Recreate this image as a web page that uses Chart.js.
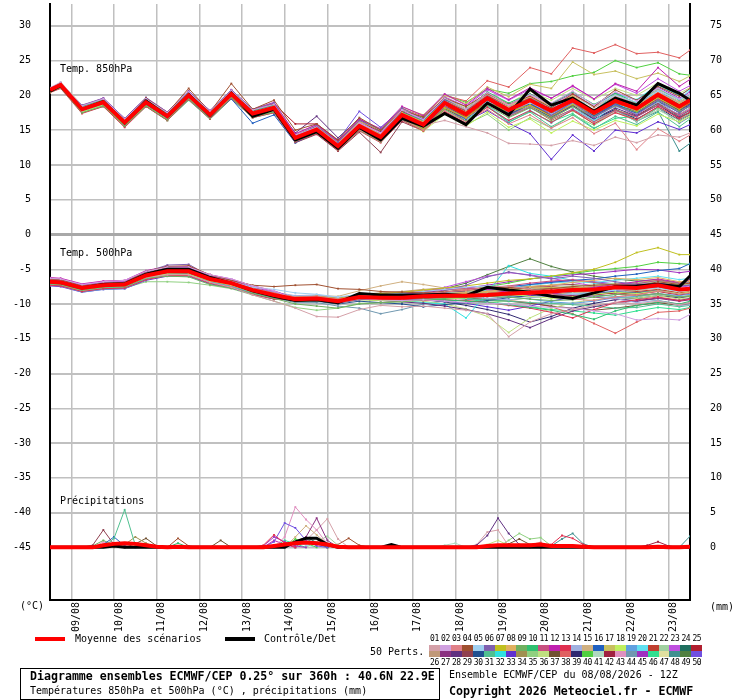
<!DOCTYPE html>
<html>
<head>
<meta charset="utf-8">
<script src="https://cdn.jsdelivr.net/npm/chart.js@4.4.1/dist/chart.umd.min.js"></script>
<style>
  body { margin: 0; background: #fff; }
  #wrap { position: relative; width: 740px; height: 700px; font-family: 'DejaVu Sans Mono', monospace; font-size: 10px; color: #000; }
  #c { position: absolute; left: 0; top: 0; }
  .t { position: absolute; white-space: pre; line-height: 12px; }
  .b { font-weight: bold; font-size: 11.6px; }
  .sw { position: absolute; width: 11px; height: 6px; }
  .n { position: absolute; width: 11px; text-align: center; font-size: 8px; line-height: 10px; letter-spacing: -0.4px; }
</style>
</head>
<body>
<div id="wrap">
  <canvas id="c" width="740" height="700"></canvas>
  <div class="t" style="left:60px;top:63px">Temp. 850hPa</div>
  <div class="t" style="left:60px;top:247px">Temp. 500hPa</div>
  <div class="t" style="left:60px;top:495px">Précipitations</div>
  <div class="t" style="left:20px;top:600px">(°C)</div>
  <div class="t" style="left:710px;top:601px">(mm)</div>

  <div style="position:absolute;left:35px;top:637px;width:30px;height:4px;background:#ff0000"></div>
  <div class="t" style="left:75px;top:633px">Moyenne des scénarios</div>
  <div style="position:absolute;left:225px;top:637px;width:30px;height:4px;background:#000"></div>
  <div class="t" style="left:264px;top:633px">Contrôle/Det</div>
  <div class="t" style="left:370px;top:646px">50 Perts.</div>
  <div id="perts"></div>

  <div style="position:absolute;left:20px;top:668px;width:418px;height:30px;border:1px solid #000"></div>
  <div class="t b" style="left:30px;top:670px">Diagramme ensembles ECMWF/CEP 0.25° sur 360h : 40.6N 22.9E</div>
  <div class="t" style="left:30px;top:685px">Températures 850hPa et 500hPa (°C) , précipitations (mm)</div>
  <div class="t" style="left:449px;top:669px">Ensemble ECMWF/CEP du 08/08/2026 - 12Z</div>
  <div class="t b" style="left:449px;top:685px">Copyright 2026 Meteociel.fr - ECMWF</div>
</div>

<script>
// forecast hours from 08/08 12Z
const hours = [0, 6, 18, 30, 42, 54, 66, 78, 90, 102, 114, 126, 138, 150, 162, 174, 186, 198, 210, 222, 234, 246, 258, 270, 282, 294, 306, 318, 330, 342, 354, 360];

const dayTicks = [12, 36, 60, 84, 108, 132, 156, 180, 204, 228, 252, 276, 300, 324, 348];
const dayLabels = ['09/08', '10/08', '11/08', '12/08', '13/08', '14/08', '15/08', '16/08', '17/08', '18/08', '19/08', '20/08', '21/08', '22/08', '23/08'];

const tempTicks = [30, 25, 20, 15, 10, 5, 0, -5, -10, -15, -20, -25, -30, -35, -40, -45];
const rightTicks = [75, 70, 65, 60, 55, 50, 45, 40, 35, 30, 25, 20, 15, 10, 5, 0];

const memberColors = [
  '#d4a0a8', '#d0a0e0', '#e08088', '#a05030', '#a0d0f0', '#8060b0', '#c0c020', '#e0b060', '#70b060', '#30c070',
  '#c85080', '#c020b0', '#e03050', '#a0b0e0', '#d0b080', '#2060c0', '#c8c060', '#c0f060', '#60a0e0', '#60e0f0',
  '#c04030', '#a0d0a0', '#c050e0', '#207060', '#b02030', '#c09878', '#8a3080', '#603080', '#904050', '#205090',
  '#50c090', '#30e0e0', '#6030d0', '#a09050', '#90d080', '#c0e080', '#705030', '#e06060', '#302870', '#50d040',
  '#b0d8c0', '#a02040', '#e090c0', '#7098b0', '#a030c0', '#30e090', '#e0e0a0', '#409090', '#508040', '#7050e0'
];

const mean850 = [20.8, 21.5, 18.0, 19.0, 16.1, 19.0, 17.0, 20.0, 17.2, 20.2, 17.4, 18.2, 13.9, 15.1, 12.7, 15.6, 14.0, 17.2, 15.8, 18.9, 17.3, 19.6, 17.9, 19.3, 17.8, 19.3, 17.5, 19.2, 18.1, 20.1, 18.4, 19.3];
const control850 = [20.6, 21.4, 18.0, 19.1, 16.0, 19.2, 17.0, 20.1, 17.1, 20.3, 17.0, 18.0, 13.6, 14.8, 12.4, 15.4, 13.6, 16.7, 15.6, 17.4, 15.8, 18.9, 17.2, 20.9, 18.6, 19.6, 17.7, 19.6, 18.6, 21.7, 20.3, 19.3];

const members850 = [
  [21.0,21.6,18.2,19.1,16.3,19.2,17.1,20.1,17.0,20.0,17.3,18.0,14.0,15.3,12.9,15.5,13.8,16.5,15.7,16.4,15.5,14.6,13.1,13.0,12.8,13.5,12.8,14.0,13.2,14.3,14.0,14.6],
  [21.1,21.9,18.5,19.5,16.6,19.5,17.5,20.5,17.7,20.7,17.9,18.7,14.3,15.4,13.0,16.0,14.6,17.9,16.5,19.6,18.0,20.4,18.6,20.1,18.9,20.6,18.6,20.5,19.2,21.0,19.5,20.2],
  [20.9,21.6,18.1,18.9,16.0,18.8,16.8,19.8,16.9,19.9,17.1,17.8,13.5,14.7,12.3,15.1,13.4,16.6,15.0,17.8,16.2,18.0,15.9,17.2,15.3,16.8,14.5,16.0,12.2,15.2,13.4,14.3],
  [20.8,21.6,18.2,19.3,16.4,19.6,17.5,21.0,17.6,21.7,18.0,19.3,15.0,15.9,13.6,16.8,15.0,17.8,16.9,19.6,18.4,20.3,18.7,19.9,18.2,20.2,18.4,20.8,19.3,21.3,19.9,21.0],
  [20.9,21.4,17.8,18.8,15.9,18.9,16.9,19.8,17.0,20.0,17.3,18.0,13.8,15.0,12.6,15.4,13.9,16.9,15.9,18.6,17.5,19.1,18.1,18.9,18.4,19.4,18.6,20.0,19.0,20.6,19.4,20.0],
  [20.9,21.7,18.6,19.6,16.7,19.7,17.6,20.6,17.8,20.8,18.0,18.9,14.2,15.6,13.3,16.4,15.1,18.2,16.6,19.3,17.4,19.9,17.5,19.5,17.1,19.0,16.8,18.6,17.2,19.4,17.5,18.5],
  [20.8,21.5,18.1,19.0,16.2,18.9,16.9,19.9,17.1,20.1,17.2,18.1,13.7,14.9,12.5,15.3,13.7,16.8,15.2,18.2,16.8,19.0,17.6,18.6,17.0,18.7,17.3,19.0,17.8,19.6,18.0,19.0],
  [20.7,21.4,18.0,19.0,16.1,19.1,17.0,20.1,17.4,20.3,17.6,18.4,14.1,15.3,12.8,15.9,14.4,17.5,16.2,19.3,17.9,20.1,18.5,19.8,18.3,19.9,17.9,19.8,18.6,20.4,18.9,19.6],
  [20.5,21.1,17.5,18.5,15.6,18.5,16.5,19.5,16.7,19.7,16.9,17.6,13.4,14.6,12.2,15.0,13.3,16.5,15.0,18.0,16.3,18.6,16.8,18.2,16.7,18.4,16.9,18.5,17.6,19.3,17.7,18.4],
  [21.0,21.8,18.4,19.4,16.5,19.4,17.4,20.4,17.6,20.6,17.8,18.6,14.0,15.2,12.8,15.8,14.3,17.6,16.3,19.6,18.0,20.5,18.9,20.2,18.8,20.5,18.7,20.3,18.9,21.0,19.3,20.1],
  [20.6,21.3,17.8,18.9,15.9,18.9,16.8,19.9,17.0,19.9,17.1,17.9,13.6,14.8,12.4,15.2,13.5,16.7,15.3,18.4,16.7,18.9,17.0,18.3,16.6,18.0,16.2,17.8,16.9,18.6,17.2,18.0],
  [20.9,21.7,18.5,19.6,16.7,19.6,17.6,20.6,17.8,20.8,18.0,19.0,14.5,15.8,13.4,16.6,15.2,18.4,17.1,20.2,18.6,21.0,19.4,21.1,19.6,21.4,19.5,21.7,20.6,24.0,21.3,22.3],
  [20.4,21.0,17.4,18.4,15.4,18.4,16.4,19.4,16.6,19.6,16.8,17.5,13.3,14.5,12.1,14.9,13.2,16.4,14.9,17.7,16.0,18.3,16.4,17.8,16.1,17.9,15.9,17.5,16.5,18.4,16.7,17.6],
  [20.9,21.6,18.2,19.2,16.3,19.1,17.1,20.0,17.2,20.1,17.3,18.1,13.8,15.0,12.6,15.6,14.1,17.3,16.0,19.0,17.4,19.5,17.6,19.0,17.3,18.8,16.9,18.4,17.3,19.0,17.2,18.2],
  [20.7,21.5,18.0,19.1,16.1,19.0,17.0,20.0,17.3,20.2,17.5,18.3,14.0,15.2,12.9,15.7,14.2,17.4,16.1,19.1,17.6,19.8,18.3,19.8,18.5,20.0,18.3,20.1,18.9,20.8,19.1,19.9],
  [20.9,21.3,17.9,18.8,15.9,18.7,16.7,19.5,16.8,19.5,16.0,17.2,13.2,14.6,12.4,15.3,13.8,16.9,15.4,18.3,16.6,19.1,17.2,18.8,17.3,18.9,17.0,18.8,17.4,19.2,17.5,18.6],
  [20.8,21.5,18.1,19.0,16.1,19.1,17.1,20.1,17.3,20.3,17.5,18.4,14.2,15.5,13.2,16.3,15.0,18.3,17.2,20.0,18.8,21.2,19.8,21.6,21.0,24.8,23.0,23.5,22.4,23.2,22.0,22.8],
  [20.4,21.1,17.6,18.6,15.7,18.6,16.6,19.6,16.8,19.8,16.9,17.7,13.5,14.7,12.3,15.1,13.5,16.6,14.8,17.3,15.6,17.6,15.4,16.6,14.6,16.3,15.0,16.4,15.6,17.3,16.2,17.0],
  [20.8,21.5,18.0,19.0,16.1,19.0,17.0,20.0,17.2,20.2,17.4,18.2,13.9,15.1,12.7,15.6,14.0,17.2,15.9,19.1,17.4,19.7,18.0,19.6,18.2,19.8,17.7,19.5,18.6,20.7,18.9,19.8],
  [20.9,21.6,18.1,19.1,16.2,19.2,17.1,20.1,17.2,20.2,17.4,18.1,13.7,14.9,12.6,15.5,13.9,17.0,15.5,18.4,16.6,18.6,16.3,17.9,16.0,18.1,16.4,18.7,17.9,20.9,19.4,20.8],
  [20.7,21.4,18.0,19.0,16.1,19.0,16.9,19.9,17.1,20.0,17.2,18.0,13.8,15.0,12.6,15.5,14.0,17.1,15.6,18.6,16.9,19.2,17.3,18.8,17.2,18.9,17.0,18.9,17.8,19.8,18.1,19.0],
  [20.8,21.5,18.1,19.1,16.2,19.1,17.1,20.1,17.3,20.3,17.5,18.3,14.0,15.2,12.8,15.7,14.1,17.3,15.9,18.8,17.1,19.1,17.0,18.4,16.6,18.0,16.1,17.6,16.3,17.9,16.4,17.3],
  [20.7,21.4,17.9,19.1,16.2,19.2,17.1,20.2,17.4,20.4,17.6,18.5,14.3,15.5,13.1,16.1,14.6,17.8,16.6,19.8,18.4,20.8,19.3,20.9,19.6,21.3,19.5,21.6,20.3,22.4,20.6,21.4],
  [20.9,21.6,18.1,19.0,16.1,18.9,16.9,19.8,17.0,19.9,17.1,17.9,13.6,14.8,12.4,15.3,13.6,16.8,15.4,18.5,16.9,19.3,17.5,19.2,17.6,19.4,17.4,19.3,18.3,20.4,18.7,19.5],
  [20.8,21.5,18.1,19.2,16.3,19.3,17.3,20.3,17.5,20.6,17.8,18.8,15.9,15.9,13.5,16.4,14.6,17.7,16.2,19.2,17.6,19.9,18.1,19.7,18.0,19.5,17.6,19.4,18.0,19.8,18.1,18.9],
  [20.6,21.3,17.8,18.8,15.9,18.8,16.8,19.8,17.0,20.0,17.2,18.0,13.7,14.9,12.5,15.4,13.8,17.0,15.6,18.7,17.0,19.3,17.6,19.0,17.5,19.0,17.3,19.1,18.2,20.2,18.6,19.5],
  [20.8,21.4,17.9,18.9,16.0,18.9,16.9,19.9,17.1,20.1,17.3,18.1,13.8,15.0,12.7,15.6,14.2,17.4,16.0,19.2,17.7,20.0,18.2,19.7,18.0,19.6,17.5,19.1,17.5,19.2,17.0,17.9],
  [20.9,21.5,18.0,19.1,16.2,19.2,17.2,20.2,17.4,20.5,17.7,18.6,14.6,17.0,13.9,16.6,14.8,17.6,16.1,18.9,17.1,19.0,17.0,18.4,16.9,18.5,16.6,18.2,17.0,18.6,16.8,17.6],
  [20.7,21.4,17.9,18.8,15.9,18.7,16.7,19.6,16.8,19.7,16.9,17.6,13.2,14.4,12.0,14.7,11.8,16.2,14.9,18.1,16.6,18.9,17.2,18.7,17.1,18.8,16.8,18.7,17.6,19.5,17.9,18.8],
  [20.8,21.5,18.0,19.0,16.0,19.0,17.0,20.0,17.3,20.2,17.4,18.2,13.9,15.1,12.8,15.8,14.3,17.5,16.2,19.4,17.8,20.1,18.3,19.6,17.9,19.2,17.0,18.7,17.4,19.6,17.8,18.7],
  [20.6,21.2,17.7,18.6,15.7,18.6,16.6,19.6,16.8,19.8,17.0,17.7,13.5,14.8,12.4,15.3,13.7,16.9,15.5,18.4,16.5,18.5,16.2,17.6,15.5,17.2,15.2,17.0,15.8,17.6,15.5,16.6],
  [20.7,21.4,18.0,19.0,16.1,19.1,17.1,20.1,17.3,20.3,17.5,18.4,14.1,15.3,12.9,15.9,14.4,17.6,16.3,19.4,17.6,19.5,16.9,18.4,16.9,18.8,17.8,20.2,19.4,21.5,20.0,20.9],
  [20.8,21.5,18.1,19.1,16.2,19.1,17.0,19.9,17.0,19.9,17.1,17.9,13.6,14.9,12.6,15.5,14.0,17.0,15.4,18.3,16.3,17.8,16.0,14.5,10.8,14.3,12.0,15.0,14.6,16.2,15.1,15.8],
  [20.6,21.3,17.9,18.9,16.0,18.9,16.9,19.8,17.1,20.0,17.3,18.1,13.8,15.0,12.6,15.5,13.9,17.1,15.7,18.7,17.0,19.0,17.0,18.3,16.4,17.8,15.9,17.9,17.0,18.6,17.3,18.2],
  [20.5,21.1,17.5,18.5,15.6,18.5,16.4,19.4,16.6,19.6,16.8,17.6,13.6,14.7,12.3,15.2,13.6,16.7,15.0,17.5,15.8,17.3,15.0,16.8,15.3,17.2,15.7,17.6,16.5,18.2,16.9,17.8],
  [21.0,21.9,18.6,19.5,16.6,19.5,17.5,20.5,17.7,20.7,17.9,18.8,14.4,15.6,13.2,16.2,14.7,17.9,16.6,19.7,18.2,20.4,18.8,20.6,19.3,21.0,19.4,21.0,20.0,21.8,20.3,21.1],
  [20.7,21.4,17.9,18.9,16.0,18.9,16.8,19.8,17.0,19.9,17.1,17.8,13.5,14.7,12.3,15.1,13.4,16.5,15.2,18.3,16.7,19.1,17.6,19.0,17.4,19.2,17.1,18.9,17.4,19.0,16.9,17.5],
  [20.8,21.5,18.1,19.1,16.2,19.2,17.2,20.2,17.4,20.4,17.6,18.5,14.3,15.6,13.3,16.3,14.9,18.1,17.0,20.0,19.2,22.1,21.2,24.0,23.1,26.8,26.1,27.3,26.0,26.2,25.4,26.5],
  [20.9,21.5,18.0,19.0,16.0,18.9,16.9,19.9,17.2,20.2,17.4,18.3,14.0,15.2,12.7,15.6,14.0,17.2,15.8,18.9,17.2,19.4,17.5,19.0,17.2,18.6,16.6,18.0,16.6,18.3,16.4,17.2],
  [20.7,21.4,18.0,19.1,16.2,19.2,17.2,20.2,17.4,20.4,17.6,18.4,14.2,15.4,13.1,16.1,14.7,17.9,16.8,20.1,19.0,20.9,20.3,21.7,22.0,22.8,23.3,25.0,24.0,24.7,23.1,22.9],
  [20.8,21.5,18.0,18.9,16.0,18.9,16.9,19.9,17.1,20.1,17.3,18.2,13.9,15.1,12.7,15.6,14.1,17.3,15.9,19.0,17.3,19.6,17.8,19.2,17.6,19.1,17.2,18.9,17.6,19.5,17.7,18.6],
  [20.9,21.6,18.1,19.1,16.2,19.1,17.0,20.0,17.2,20.3,17.5,18.3,14.1,15.4,13.0,15.9,14.4,17.6,16.2,19.3,17.5,19.6,17.6,19.1,17.4,19.2,16.9,18.6,17.1,18.9,16.5,17.3],
  [20.6,21.4,17.9,19.0,16.1,19.0,17.0,20.0,17.3,20.2,17.4,18.2,13.9,15.1,12.8,15.7,14.2,17.4,16.0,19.1,17.6,20.0,18.4,20.0,18.6,20.2,18.2,19.9,18.8,20.6,19.0,19.9],
  [20.8,21.5,18.0,19.0,16.1,19.1,17.1,20.1,17.2,20.1,17.3,18.0,13.7,14.9,12.6,15.4,13.8,16.9,15.5,18.5,16.8,19.0,17.1,18.5,16.8,18.4,16.3,17.9,16.2,18.2,16.0,16.9],
  [20.9,21.8,18.4,19.4,16.5,19.4,17.4,20.4,17.6,20.6,17.9,18.7,14.2,15.5,13.1,16.0,14.5,17.7,16.4,19.5,18.0,20.3,18.6,20.2,18.7,20.3,18.4,20.4,19.3,21.2,19.6,20.5],
  [20.6,21.1,17.5,18.4,15.5,18.4,16.4,19.3,16.6,19.5,16.8,17.5,13.6,14.8,12.4,15.2,13.5,16.6,15.1,18.0,16.2,18.4,16.1,17.7,16.2,17.4,15.3,16.7,17.0,18.8,16.7,17.5],
  [20.8,21.5,18.1,19.1,16.1,19.0,17.0,20.0,17.2,20.2,17.4,18.2,13.9,15.1,12.8,15.7,14.2,17.4,16.1,19.2,17.6,19.9,18.1,19.6,18.0,19.7,17.9,19.7,18.5,20.5,18.8,19.7],
  [20.7,21.4,17.9,18.9,16.0,18.9,16.9,19.9,17.1,20.0,17.2,18.0,13.7,14.9,12.5,15.4,13.8,17.0,15.6,18.6,16.9,19.1,17.2,18.7,17.0,18.5,16.5,18.0,16.3,17.7,12.0,13.1],
  [20.8,21.6,18.1,19.1,16.2,19.1,17.1,20.1,17.3,20.3,17.5,18.3,14.0,15.2,12.9,15.8,14.3,17.4,16.0,19.0,17.3,19.5,17.7,19.3,17.7,19.6,17.6,19.6,18.4,20.3,18.3,19.1],
  [20.9,21.5,18.0,19.0,16.1,19.1,17.1,20.1,17.3,20.3,17.5,18.4,14.4,15.8,13.5,17.7,15.4,18.0,16.4,19.4,17.8,20.0,18.1,19.6,17.9,19.5,17.4,19.3,18.1,19.9,18.0,18.9]
];

const mean500 = [-6.8, -6.9, -7.7, -7.3, -7.2, -5.9, -5.3, -5.3, -6.4, -7.0, -8.0, -8.7, -9.3, -9.2, -9.6, -9.0, -9.1, -9.1, -8.9, -8.8, -8.8, -8.7, -8.5, -8.4, -8.2, -8.0, -7.9, -7.6, -7.7, -7.3, -7.9, -7.8];
const control500 = [-6.8, -6.9, -7.7, -7.2, -7.1, -5.7, -5.0, -5.0, -6.2, -7.0, -8.1, -8.9, -9.5, -9.4, -9.8, -8.5, -8.7, -8.7, -8.7, -8.6, -8.8, -7.6, -8.0, -8.3, -8.9, -9.2, -8.4, -7.5, -7.4, -7.2, -7.5, -6.0];

const members500 = [
  [-6.7,-6.8,-7.6,-7.4,-7.3,-6.2,-5.8,-5.8,-6.9,-7.6,-8.7,-9.6,-10.6,-11.8,-11.9,-10.8,-10.2,-10.4,-10.3,-10.6,-10.9,-11.4,-14.7,-12.6,-11.4,-10.8,-10.2,-9.8,-10.0,-9.6,-10.1,-9.8],
  [-6.3,-6.4,-7.2,-6.8,-6.6,-5.3,-4.7,-4.7,-5.8,-6.4,-7.4,-8.1,-9.4,-9.3,-9.7,-9.2,-9.4,-9.5,-9.4,-9.6,-9.8,-9.9,-10.0,-10.3,-10.5,-10.6,-11.0,-11.4,-12.3,-12.1,-12.3,-11.5],
  [-6.8,-6.9,-7.6,-7.2,-7.0,-5.6,-5.0,-5.0,-6.1,-6.8,-7.8,-8.4,-9.0,-8.9,-9.3,-8.8,-8.9,-8.8,-8.5,-8.3,-8.0,-7.6,-7.4,-7.9,-8.6,-9.3,-9.5,-9.0,-8.7,-8.1,-8.6,-8.4],
  [-6.4,-6.5,-7.4,-7.0,-6.9,-5.3,-4.6,-4.5,-5.8,-6.6,-7.3,-7.5,-7.3,-7.2,-7.8,-7.9,-8.2,-8.3,-8.4,-8.2,-8.0,-7.7,-7.6,-7.9,-7.8,-7.5,-7.3,-7.2,-7.5,-6.8,-7.2,-7.0],
  [-6.9,-7.0,-7.7,-7.3,-7.2,-6.0,-5.4,-5.2,-6.2,-6.8,-7.6,-7.9,-8.4,-8.6,-9.0,-8.6,-8.7,-8.5,-8.2,-7.9,-7.6,-7.4,-7.5,-7.8,-8.2,-8.5,-8.4,-8.0,-7.9,-7.7,-8.2,-8.0],
  [-6.6,-6.7,-7.5,-7.2,-7.0,-5.4,-4.4,-4.3,-6.0,-7.1,-8.2,-8.8,-9.5,-9.4,-9.9,-9.4,-9.3,-9.2,-8.8,-8.1,-7.3,-6.1,-5.4,-5.9,-6.4,-6.0,-6.3,-6.8,-7.2,-7.0,-7.4,-7.3],
  [-6.7,-6.8,-7.7,-7.3,-7.1,-5.8,-5.2,-5.1,-6.2,-6.8,-7.8,-8.5,-9.0,-8.9,-9.2,-8.7,-8.5,-8.3,-8.0,-7.7,-7.4,-7.0,-6.6,-6.4,-6.0,-5.5,-5.0,-4.0,-2.6,-1.9,-2.9,-2.9],
  [-6.9,-7.0,-7.8,-7.4,-7.3,-6.0,-5.4,-5.4,-6.6,-7.3,-8.2,-8.9,-9.6,-9.5,-9.8,-9.3,-9.2,-9.0,-8.7,-8.5,-8.3,-8.2,-7.8,-7.5,-7.3,-6.9,-6.6,-6.3,-6.5,-6.2,-6.8,-6.7],
  [-7.1,-7.2,-8.0,-7.6,-7.5,-6.3,-6.0,-6.1,-7.2,-7.7,-8.5,-9.2,-10.0,-10.3,-10.6,-10.0,-9.8,-9.7,-9.4,-9.2,-9.0,-8.9,-9.0,-9.3,-9.5,-9.4,-9.0,-8.6,-8.8,-8.5,-9.0,-8.9],
  [-6.7,-6.8,-7.6,-7.2,-7.1,-5.7,-5.1,-5.2,-6.3,-7.0,-8.0,-8.6,-9.1,-9.0,-9.4,-8.9,-9.0,-9.2,-9.3,-9.4,-9.6,-9.8,-10.1,-10.5,-10.9,-11.5,-12.2,-11.0,-10.2,-9.7,-10.0,-9.6],
  [-6.5,-6.6,-7.5,-7.1,-7.0,-5.6,-4.9,-4.9,-6.0,-6.7,-7.7,-8.4,-9.0,-8.9,-9.2,-8.6,-8.5,-8.3,-8.1,-7.9,-7.8,-7.7,-7.4,-7.0,-6.7,-6.5,-6.9,-7.3,-7.1,-6.6,-7.0,-6.8],
  [-6.2,-6.3,-7.1,-6.7,-6.6,-5.2,-4.6,-4.6,-5.8,-6.4,-7.4,-8.1,-9.2,-9.1,-9.5,-9.0,-8.8,-8.6,-8.2,-7.8,-7.6,-7.9,-8.3,-8.7,-8.6,-8.1,-7.6,-7.2,-6.8,-6.4,-6.9,-6.6],
  [-7.3,-7.4,-8.2,-7.8,-7.7,-6.5,-5.9,-5.9,-7.0,-7.6,-8.6,-9.3,-9.4,-9.3,-9.7,-9.2,-9.3,-9.4,-9.5,-9.4,-9.5,-9.8,-10.2,-10.6,-11.2,-12.0,-10.8,-9.8,-9.4,-9.0,-9.5,-9.3],
  [-6.8,-6.9,-7.7,-7.3,-7.2,-5.9,-5.3,-5.2,-6.3,-6.9,-7.8,-8.3,-8.8,-8.7,-9.1,-8.6,-8.8,-8.9,-8.8,-8.7,-8.9,-9.2,-9.4,-9.1,-8.8,-8.6,-8.9,-9.2,-9.8,-9.5,-10.2,-10.1],
  [-6.8,-6.9,-7.6,-7.2,-7.1,-5.8,-5.2,-5.1,-6.2,-6.9,-7.9,-8.5,-9.0,-8.8,-8.9,-8.1,-7.4,-6.8,-7.2,-7.7,-8.0,-8.2,-8.4,-8.5,-8.6,-8.4,-8.2,-7.9,-8.0,-7.7,-8.2,-8.1],
  [-6.9,-7.0,-7.8,-7.4,-7.3,-6.0,-5.4,-5.4,-6.5,-7.1,-8.0,-8.6,-9.2,-9.1,-9.5,-9.0,-9.0,-8.9,-8.6,-8.3,-8.0,-7.8,-7.5,-7.2,-6.9,-6.6,-6.4,-6.0,-5.7,-5.2,-4.9,-4.2],
  [-6.7,-6.8,-7.7,-7.3,-7.1,-5.8,-5.2,-5.3,-6.4,-7.0,-7.9,-8.6,-9.1,-9.0,-9.4,-8.9,-9.0,-8.9,-8.7,-8.6,-8.5,-8.3,-8.0,-7.7,-7.6,-7.7,-7.5,-7.1,-6.9,-6.6,-7.2,-7.0],
  [-7.0,-7.1,-7.9,-7.5,-7.4,-6.2,-5.7,-5.7,-6.7,-7.3,-8.3,-9.0,-9.6,-9.5,-9.9,-9.4,-9.5,-9.6,-9.5,-9.3,-9.1,-8.8,-8.6,-8.9,-9.2,-9.0,-8.6,-8.3,-8.5,-8.1,-8.5,-8.3],
  [-7.3,-7.4,-8.3,-7.9,-7.8,-6.5,-5.8,-5.8,-6.9,-7.5,-8.5,-9.2,-9.4,-9.3,-9.6,-9.0,-9.1,-9.0,-8.7,-8.5,-8.4,-8.6,-8.9,-9.3,-9.7,-9.9,-9.6,-9.1,-8.9,-8.5,-8.8,-8.6],
  [-6.6,-6.7,-7.5,-7.1,-7.0,-5.7,-5.1,-5.1,-6.2,-6.9,-7.8,-8.4,-8.9,-8.8,-9.2,-8.7,-8.8,-8.7,-8.5,-8.4,-8.3,-8.0,-7.6,-7.3,-7.0,-6.8,-6.9,-6.6,-6.3,-6.0,-6.5,-6.3],
  [-6.8,-6.9,-7.7,-7.3,-7.2,-5.9,-5.3,-5.3,-6.4,-7.0,-8.0,-8.7,-9.3,-9.2,-9.6,-9.0,-9.2,-9.3,-9.2,-9.1,-9.0,-8.8,-8.5,-8.1,-7.8,-7.6,-7.7,-7.9,-8.2,-7.9,-8.4,-8.2],
  [-6.9,-7.0,-7.7,-7.3,-7.2,-5.9,-5.3,-5.3,-6.5,-7.2,-8.2,-8.9,-9.5,-9.4,-9.8,-9.2,-9.2,-9.1,-8.9,-8.8,-8.7,-8.5,-8.2,-8.0,-7.7,-7.4,-7.3,-7.0,-7.1,-6.8,-7.3,-7.1],
  [-6.3,-6.4,-7.2,-6.8,-6.7,-5.3,-4.6,-4.7,-5.9,-6.5,-7.4,-8.2,-9.1,-9.0,-9.4,-8.8,-8.8,-8.6,-8.2,-7.6,-6.8,-6.0,-5.5,-5.8,-6.3,-6.9,-7.4,-7.8,-7.5,-7.0,-7.6,-7.4],
  [-6.8,-6.9,-7.7,-7.3,-7.2,-5.9,-5.4,-5.5,-6.6,-7.2,-8.2,-8.9,-9.4,-9.3,-9.7,-9.2,-9.3,-9.2,-9.0,-8.9,-8.9,-8.8,-8.7,-8.6,-8.5,-8.3,-8.2,-7.9,-8.0,-7.6,-8.1,-8.0],
  [-6.9,-7.0,-7.8,-7.3,-7.1,-5.8,-5.2,-5.2,-6.3,-6.9,-7.9,-8.6,-9.2,-9.1,-9.5,-9.0,-9.1,-9.0,-8.8,-8.6,-8.5,-8.4,-8.3,-8.5,-8.7,-8.9,-8.7,-8.4,-8.6,-8.2,-8.7,-8.5],
  [-6.5,-6.6,-7.5,-7.2,-7.1,-5.8,-5.2,-5.2,-6.4,-7.0,-7.9,-8.5,-9.0,-8.9,-9.2,-8.6,-8.4,-8.2,-7.9,-7.7,-7.8,-8.0,-8.3,-8.4,-8.3,-8.1,-7.8,-7.4,-7.3,-7.0,-7.4,-7.2],
  [-6.8,-6.9,-7.7,-7.4,-7.3,-6.0,-5.4,-5.4,-6.5,-7.1,-8.1,-8.8,-9.4,-9.3,-9.7,-9.1,-9.1,-9.0,-8.8,-8.6,-8.4,-8.2,-8.0,-8.2,-8.5,-8.8,-9.0,-9.3,-9.6,-9.2,-9.6,-9.4],
  [-6.9,-7.0,-7.8,-7.4,-7.2,-5.9,-5.3,-5.4,-6.5,-7.1,-8.1,-8.8,-9.4,-9.4,-9.8,-9.3,-9.5,-9.7,-9.9,-10.3,-10.8,-11.4,-12.3,-13.4,-12.1,-11.0,-10.4,-9.8,-9.6,-9.1,-9.5,-9.2],
  [-6.7,-6.8,-7.6,-7.2,-7.1,-5.8,-5.2,-5.2,-6.3,-6.9,-7.9,-8.6,-9.1,-9.0,-9.5,-8.9,-8.9,-8.8,-8.5,-8.3,-8.2,-8.0,-7.7,-7.5,-7.3,-7.2,-7.5,-7.8,-7.7,-7.4,-7.9,-7.7],
  [-6.8,-6.9,-7.7,-7.3,-7.2,-6.0,-5.5,-5.6,-6.7,-7.3,-8.3,-9.0,-9.6,-9.6,-10.0,-9.6,-9.8,-10.0,-10.4,-10.1,-9.8,-9.5,-9.1,-8.8,-8.6,-8.4,-8.5,-8.3,-8.4,-8.1,-8.6,-8.4],
  [-6.8,-6.9,-7.7,-7.3,-7.1,-5.8,-5.3,-5.3,-6.4,-7.0,-8.0,-8.7,-9.3,-9.2,-9.6,-9.1,-9.2,-9.2,-9.1,-9.0,-9.2,-9.4,-9.6,-9.8,-9.9,-10.1,-10.3,-10.6,-10.5,-10.0,-10.4,-10.2],
  [-6.9,-7.0,-7.8,-7.4,-7.3,-6.0,-5.4,-5.3,-6.4,-7.0,-8.0,-8.6,-9.2,-9.1,-9.5,-9.0,-9.2,-9.4,-9.8,-10.0,-12.0,-8.4,-4.5,-5.6,-6.0,-6.6,-7.0,-7.2,-7.0,-6.7,-7.1,-6.9],
  [-7.4,-7.5,-8.3,-7.9,-7.8,-6.6,-6.0,-6.0,-7.1,-7.7,-8.6,-9.3,-9.3,-9.3,-9.7,-9.2,-9.3,-9.4,-9.4,-9.6,-9.9,-10.4,-10.9,-10.3,-9.6,-9.0,-8.6,-8.1,-7.6,-7.0,-7.4,-7.2],
  [-6.7,-6.8,-7.6,-7.3,-7.2,-6.0,-5.5,-5.5,-6.6,-7.2,-8.1,-8.8,-9.3,-9.2,-9.6,-9.1,-9.0,-8.8,-8.6,-8.5,-8.6,-8.7,-8.8,-8.6,-8.3,-8.0,-7.8,-7.5,-7.4,-7.0,-7.5,-7.3],
  [-7.2,-7.3,-8.1,-7.8,-7.7,-6.8,-6.8,-6.9,-7.3,-7.8,-8.7,-9.6,-10.5,-10.9,-10.6,-9.9,-9.8,-9.6,-9.4,-9.6,-10.0,-9.8,-9.5,-9.1,-8.8,-8.6,-8.9,-9.2,-9.0,-8.6,-9.0,-8.8],
  [-6.8,-6.9,-7.7,-7.3,-7.2,-5.9,-5.2,-5.2,-6.3,-6.9,-7.9,-8.6,-9.2,-9.1,-9.5,-9.0,-9.2,-9.4,-9.6,-10.0,-10.7,-11.8,-14.1,-12.0,-10.6,-9.8,-9.4,-9.0,-9.2,-8.8,-9.3,-9.1],
  [-6.6,-6.7,-7.5,-7.2,-7.1,-5.6,-4.7,-4.6,-6.1,-6.9,-7.9,-8.6,-9.2,-9.1,-9.5,-9.0,-9.1,-9.1,-9.0,-8.9,-9.1,-9.4,-9.6,-9.9,-10.3,-10.6,-10.9,-10.6,-10.2,-9.8,-10.2,-10.0],
  [-6.9,-7.0,-7.8,-7.4,-7.3,-6.0,-5.4,-5.4,-6.5,-7.1,-8.1,-8.8,-9.4,-9.3,-9.7,-9.1,-9.1,-9.0,-8.9,-8.9,-9.0,-9.2,-9.5,-9.8,-10.4,-11.4,-12.8,-14.2,-12.6,-11.2,-11.0,-10.6],
  [-6.7,-6.8,-7.6,-7.2,-7.1,-5.8,-5.1,-5.1,-6.2,-6.8,-7.8,-8.5,-9.1,-9.0,-9.4,-8.9,-9.0,-9.2,-9.4,-9.7,-10.2,-10.8,-11.5,-12.6,-11.8,-10.6,-9.9,-9.4,-9.2,-8.8,-9.1,-8.9],
  [-6.8,-6.9,-7.7,-7.3,-7.1,-5.8,-5.2,-5.2,-6.3,-6.9,-7.9,-8.6,-9.2,-9.1,-9.4,-8.9,-8.9,-8.8,-8.6,-8.3,-8.0,-7.5,-7.0,-6.4,-6.0,-5.6,-5.2,-4.9,-4.6,-4.0,-4.2,-4.3],
  [-6.9,-7.0,-7.8,-7.4,-7.2,-5.9,-5.3,-5.3,-6.4,-7.0,-8.0,-8.7,-9.3,-9.2,-9.6,-9.1,-9.1,-9.1,-8.9,-8.9,-9.0,-8.9,-8.7,-8.5,-8.4,-8.2,-8.0,-7.8,-7.9,-7.6,-8.1,-7.9],
  [-6.7,-6.8,-7.6,-7.2,-7.2,-5.9,-5.3,-5.3,-6.4,-7.0,-8.0,-8.7,-9.3,-9.2,-9.6,-9.0,-9.0,-8.9,-8.7,-8.4,-8.1,-7.9,-7.8,-7.6,-7.5,-7.8,-8.2,-8.6,-8.8,-8.5,-9.0,-8.8],
  [-6.8,-6.9,-7.7,-7.3,-7.2,-5.9,-5.3,-5.3,-6.4,-7.0,-8.0,-8.7,-9.3,-9.2,-9.6,-9.0,-9.1,-9.0,-8.8,-8.7,-8.7,-8.6,-8.4,-8.2,-8.0,-7.9,-7.8,-7.6,-7.7,-7.4,-7.9,-7.7],
  [-7.1,-7.2,-8.0,-7.5,-7.4,-6.2,-5.7,-5.7,-6.8,-7.4,-8.4,-9.1,-9.8,-9.8,-10.3,-10.6,-11.4,-10.8,-10.0,-9.6,-9.4,-9.2,-9.0,-8.8,-8.7,-8.6,-8.4,-8.2,-8.3,-8.0,-8.4,-8.3],
  [-6.4,-6.5,-7.3,-6.9,-6.8,-5.5,-4.8,-4.8,-6.0,-6.6,-7.6,-8.3,-9.1,-9.0,-9.4,-8.9,-8.9,-8.7,-8.4,-8.0,-7.7,-7.3,-6.8,-6.4,-6.1,-5.8,-5.6,-5.3,-5.0,-5.1,-5.5,-5.3],
  [-7.2,-7.3,-8.1,-7.7,-7.6,-6.4,-5.7,-5.7,-6.8,-7.4,-8.4,-9.1,-9.3,-9.2,-9.6,-9.1,-9.2,-9.2,-9.1,-9.0,-9.3,-9.7,-10.0,-10.4,-10.8,-11.0,-11.3,-11.6,-11.0,-10.5,-10.8,-10.5],
  [-6.9,-7.0,-7.8,-7.4,-7.3,-6.0,-5.4,-5.4,-6.5,-7.1,-8.1,-8.8,-9.4,-9.3,-9.7,-9.1,-9.0,-8.8,-8.6,-8.5,-8.4,-8.2,-8.0,-7.8,-7.6,-7.4,-7.2,-7.0,-7.2,-6.9,-7.4,-7.2],
  [-6.7,-6.8,-7.6,-7.3,-7.2,-5.9,-5.3,-5.3,-6.4,-7.0,-8.0,-8.7,-9.3,-9.2,-9.6,-9.0,-9.1,-9.1,-9.0,-8.9,-8.8,-8.7,-8.6,-8.5,-8.5,-8.6,-8.7,-8.9,-9.2,-9.5,-10.0,-9.8],
  [-6.8,-6.9,-7.7,-7.3,-7.1,-5.8,-5.2,-5.2,-6.3,-6.9,-7.9,-8.6,-9.2,-9.1,-9.5,-8.9,-8.9,-8.7,-8.3,-7.8,-7.0,-5.8,-4.6,-3.5,-4.6,-5.4,-6.0,-6.4,-6.7,-6.5,-7.0,-6.8],
  [-6.9,-7.0,-7.8,-7.4,-7.3,-6.0,-5.4,-5.4,-6.5,-7.1,-8.1,-8.8,-9.4,-9.3,-9.7,-9.2,-9.3,-9.3,-9.2,-9.1,-9.0,-8.6,-7.9,-7.2,-6.8,-6.6,-6.8,-7.1,-7.3,-7.0,-7.5,-7.3]
];

// precipitation (mm), [hour, mm] pairs; mean and control cover the whole run
const meanPrecip = [[0,0],[24,0],[30,0.3],[36,0.5],[42,0.6],[48,0.5],[54,0.3],[60,0.1],[66,0],[72,0.1],[78,0],[120,0],[126,0.2],[132,0.4],[138,0.6],[144,0.7],[150,0.6],[156,0.4],[162,0.1],[168,0],[240,0],[246,0.2],[252,0.3],[258,0.3],[264,0.3],[270,0.3],[276,0.4],[282,0.2],[288,0.2],[294,0.2],[300,0.1],[306,0],[336,0],[342,0.1],[348,0],[354,0],[360,0.1]];
const controlPrecip = [[0,0],[30,0],[36,0.2],[42,0],[132,0],[138,0.8],[144,1.3],[150,1.3],[156,0.4],[162,0],[186,0],[192,0.4],[198,0],[360,0]];

// [member number, [[hour, mm], ...]]
const memberPrecip = [
  [31, [[30,0],[36,1.3],[42,5.4],[48,0.3],[54,0]]],
  [29, [[18,0],[24,0.3],[30,2.5],[36,0.4],[42,0]]],
  [16, [[24,0],[30,0.4],[36,1.5],[42,0.2],[48,0]]],
  [9, [[18,0],[24,0.2],[30,1.0],[36,0.3],[42,0]]],
  [43, [[24,0],[30,0.8],[36,0.2],[42,0]]],
  [34, [[36,0],[42,0.4],[48,1.5],[54,0.6],[60,0]]],
  [37, [[42,0],[48,0.5],[54,1.3],[60,0.2],[66,0]]],
  [4, [[66,0],[72,1.3],[78,0.2],[84,0]]],
  [10, [[66,0],[72,0.6],[78,0]]],
  [37, [[90,0],[96,1.0],[102,0]]],
  [13, [[114,0],[120,0.3],[126,1.8],[132,0.6],[138,0]]],
  [45, [[114,0],[120,0.2],[126,1.5],[132,0.8],[138,0.2],[144,0]]],
  [50, [[120,0],[126,0.8],[132,3.5],[138,2.8],[144,1.0],[150,0.2],[156,0]]],
  [43, [[126,0],[132,1.5],[138,5.8],[144,4.0],[150,2.5],[156,0.5],[162,0]]],
  [27, [[132,0],[138,0.8],[144,1.5],[150,4.2],[156,1.0],[162,0]]],
  [15, [[132,0],[138,1.5],[144,3.1],[150,1.8],[156,0.5],[162,0]]],
  [1, [[138,0],[144,1.0],[150,2.5],[156,4.1],[162,1.2],[168,0]]],
  [22, [[144,0],[150,0.8],[156,1.6],[162,0.3],[168,0]]],
  [12, [[120,0],[126,1.0],[132,0.4],[138,0]]],
  [40, [[132,0],[138,1.2],[144,0.6],[150,0]]],
  [24, [[138,0],[144,1.5],[150,0.7],[156,0]]],
  [48, [[138,0],[144,1.2],[150,0.5],[156,0]]],
  [5, [[132,0],[138,0.8],[144,0.3],[150,0]]],
  [46, [[126,0],[132,1.0],[138,0.5],[144,0]]],
  [4, [[156,0],[162,0.4],[168,1.3],[174,0.3],[180,0]]],
  [41, [[216,0],[222,0.3],[228,0.6],[234,0]]],
  [28, [[234,0],[240,0.3],[246,1.7],[252,4.2],[258,2.0],[264,0.4],[270,0]]],
  [1, [[234,0],[240,0.4],[246,2.2],[252,2.5],[258,0.2],[264,0]]],
  [35, [[252,0],[258,1.0],[264,2.0],[270,1.2],[276,1.4],[282,0.2],[288,0]]],
  [36, [[240,0],[246,0.4],[252,1.0],[258,0.3],[264,0]]],
  [37, [[252,0],[258,0.5],[264,1.2],[270,0.4],[276,0]]],
  [38, [[264,0],[270,0.4],[276,0.7],[282,0]]],
  [13, [[276,0],[282,0.4],[288,1.7],[294,1.3],[300,0.4],[306,0]]],
  [48, [[276,0],[282,0.2],[288,1.2],[294,2.0],[300,0.5],[306,0]]],
  [42, [[330,0],[336,0.3],[342,0.8],[348,0.2],[354,0]]],
  [48, [[348,0],[354,0],[360,1.6]]]
];

// legend swatches for the 50 perturbations
const perts = document.getElementById('perts');
memberColors.forEach((col, i) => {
  const row = i < 25 ? 0 : 1;
  const x = 429 + (i % 25) * 10.93;
  const sw = document.createElement('div');
  sw.className = 'sw';
  sw.style.left = x + 'px';
  sw.style.top = (645 + row * 6) + 'px';
  sw.style.background = col;
  perts.appendChild(sw);
  const n = document.createElement('div');
  n.className = 'n';
  n.style.left = x + 'px';
  n.style.top = (row ? 658 : 634) + 'px';
  n.textContent = String(i + 1).padStart(2, '0');
  perts.appendChild(n);
});

const pairs = (xs, ys) => xs.map((h, i) => ({ x: h, y: ys[i] }));
const pts = (arr) => arr.map(p => ({ x: p[0], y: p[1] }));

const memberStyle = (col) => ({
  borderColor: col, backgroundColor: col, borderWidth: 1,
  pointRadius: 1.3, pointStyle: 'rect', pointBorderWidth: 0, pointBackgroundColor: col
});

const datasets = [];
datasets.push({ data: pairs(hours, mean850), borderColor: '#ff0000', borderWidth: 4, pointRadius: 0, order: 0, yAxisID: 'y' });
datasets.push({ data: pairs(hours, mean500), borderColor: '#ff0000', borderWidth: 4, pointRadius: 0, order: 0, yAxisID: 'y' });
datasets.push({ data: pts(meanPrecip), borderColor: '#ff0000', borderWidth: 4, pointRadius: 0, order: 0, yAxisID: 'y2' });
datasets.push({ data: pairs(hours, control850), borderColor: '#000', borderWidth: 3, pointRadius: 0, order: 1, yAxisID: 'y' });
datasets.push({ data: pairs(hours, control500), borderColor: '#000', borderWidth: 3, pointRadius: 0, order: 1, yAxisID: 'y' });
datasets.push({ data: pts(controlPrecip), borderColor: '#000', borderWidth: 3, pointRadius: 0, order: 1, yAxisID: 'y2' });

members850.forEach((vals, i) => {
  datasets.push(Object.assign({ data: pairs(hours, vals), order: 2, yAxisID: 'y' }, memberStyle(memberColors[i])));
});
members500.forEach((vals, i) => {
  datasets.push(Object.assign({ data: pairs(hours, vals), order: 2, yAxisID: 'y' }, memberStyle(memberColors[i])));
});
memberPrecip.forEach(([m, seg]) => {
  datasets.push(Object.assign({ data: pts(seg), order: 2, yAxisID: 'y2' }, memberStyle(memberColors[m - 1])));
});

Chart.defaults.font.family = "'DejaVu Sans Mono', monospace";
Chart.defaults.font.size = 10;
Chart.defaults.color = '#000';

const noPad = (scale) => {
  scale.paddingTop = 0; scale.paddingBottom = 0;
  scale.paddingLeft = 0; scale.paddingRight = 0;
};

new Chart(document.getElementById('c'), {
  type: 'line',
  data: { datasets },
  options: {
    responsive: false,
    devicePixelRatio: 1,
    animation: false,
    layout: { padding: 0 },
    elements: { line: { tension: 0 } },
    plugins: { legend: { display: false }, tooltip: { enabled: false } },
    scales: {
      x: {
        type: 'linear', min: 0, max: 360,
        afterBuildTicks: (s) => { s.ticks = dayTicks.map(v => ({ value: v })); },
        afterFit: (s) => { s.height = 100; noPad(s); },
        ticks: { autoSkip: false, minRotation: 90, maxRotation: 90, padding: 2, labelOffset: 5,
                 callback: (v, i) => dayLabels[i] },
        grid: { color: '#c0c0c0', lineWidth: 1.5, drawTicks: false },
        border: { color: '#000', width: 2 }
      },
      y: {
        type: 'linear', position: 'left', min: -52.5714, max: 33.1429,
        afterBuildTicks: (s) => { s.ticks = tempTicks.map(v => ({ value: v })); },
        afterFit: (s) => { s.width = 50; noPad(s); },
        ticks: { padding: 19, includeBounds: false },
        grid: {
          drawTicks: false,
          color: (c) => c.tick && c.tick.value === 0 ? '#a8a8a8' : '#c0c0c0',
          lineWidth: (c) => !c.tick ? 1 : c.tick.value === 0 ? 3 : (c.tick.value % 10 === 0 ? 2 : 1.4)
        },
        border: { color: '#000', width: 2 }
      },
      y2: {
        type: 'linear', position: 'right', min: -7.5714, max: 78.1429,
        afterBuildTicks: (s) => { s.ticks = rightTicks.map(v => ({ value: v })); },
        afterFit: (s) => { s.width = 50; noPad(s); },
        ticks: { padding: 20, includeBounds: false },
        grid: { drawOnChartArea: false, drawTicks: false },
        border: { color: '#000', width: 2 }
      }
    }
  }
});
</script>
</body>
</html>
